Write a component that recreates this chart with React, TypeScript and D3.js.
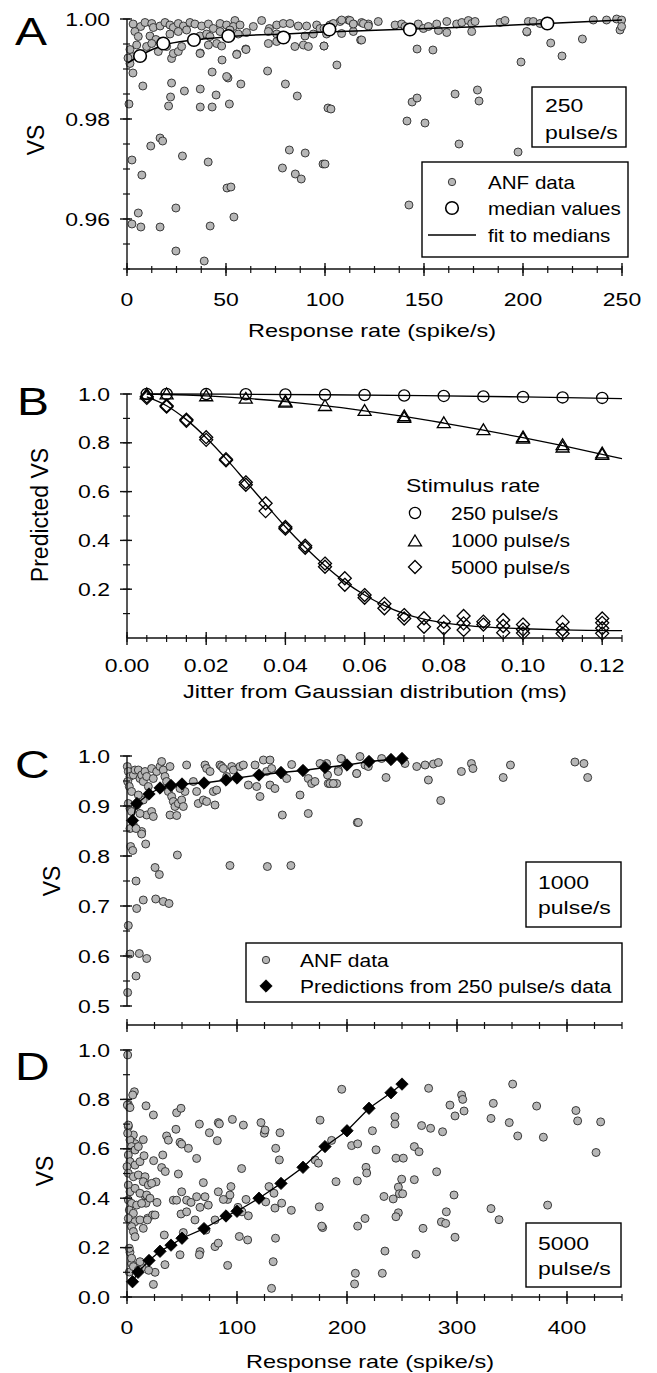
import React from "react";
import * as d3 from "d3";

// ---------------- DATA ----------------
// Panel A: 250 pulse/s, ANF data (response rate spike/s, VS)
const anfA: [number, number][] = [
  [3, 0.9892], [8, 0.9866], [1, 0.983], [22.5, 0.9872], [22, 0.9844], [21, 0.9826], [29, 0.9856], [37, 0.986], [37, 0.9824],
  [43, 0.9894], [45, 0.9848], [43, 0.9824], [51, 0.9882], [51.7, 0.983], [57.5, 0.987], [48, 0.9918], [60, 0.994], [55.5, 0.993],
  [37, 0.9932], [71, 0.9896], [80, 0.987], [86, 0.9846], [101.5, 0.9822], [12, 0.9746], [16.7, 0.9762], [18, 0.9756], [2.5, 0.9718],
  [28, 0.9726], [41, 0.9714], [7.5, 0.9688], [82, 0.9738], [90, 0.9732], [78.5, 0.9702], [85, 0.969], [88, 0.968], [99, 0.971],
  [100, 0.971], [50.5, 0.9662], [52.5, 0.9664], [5.7, 0.9612], [2.5, 0.959], [7, 0.9584], [16.7, 0.9584], [24.7, 0.9622], [42, 0.9586],
  [54, 0.9604], [24.7, 0.9536], [39, 0.9516],
  [99.5, 0.9946], [106, 0.9908], [118, 0.9958], [103, 0.982], [146.5, 0.994], [154.5, 0.9938], [144, 0.9834], [146.5, 0.9842],
  [141.4, 0.9796], [150.5, 0.9792], [165.7, 0.985], [177, 0.9858], [177.8, 0.9836], [167.7, 0.975], [142.4, 0.9628], [199, 0.9914],
  [197.5, 0.9734], [202, 0.9974], [214, 0.9952], [219.7, 0.9926], [230, 0.996],
  [2.4, 0.9925], [1.5, 0.9911], [22.5, 0.9921], [50.3, 0.9885], [0.5, 0.9922],
  [3.1, 0.999], [6.9, 0.9985], [9.1, 0.9993], [12.5, 0.9991], [13.3, 0.9983], [16.7, 0.9986], [19.2, 0.9993], [21.7, 0.9988],
  [23.4, 0.9983], [25.9, 0.9991], [28.5, 0.9986], [31.8, 0.9993], [34.3, 0.999], [37.7, 0.9986], [41.1, 0.999], [43.6, 0.9981],
  [47.0, 0.9991], [50.3, 0.9988], [54.5, 0.9997], [53.7, 0.9985], [57.1, 0.9988], [63.8, 0.9985], [68.0, 0.9997], [71.9, 0.9981],
  [75.6, 0.9988], [78.9, 0.9991], [82.3, 0.9991], [86.5, 0.9986], [90.7, 0.9986], [95.8, 0.9988], [97.5, 0.9981], [102.5, 0.9988],
  [107.6, 0.9995], [111.8, 0.9998], [114.3, 0.999], [118.5, 0.9993], [121.9, 0.999],
  [4.0, 0.9975], [5.7, 0.9965], [11.6, 0.9966], [14.6, 0.9959], [21.7, 0.997], [25.9, 0.9975], [30.1, 0.9978], [36.9, 0.9966],
  [40.2, 0.997], [41.9, 0.9965], [47.0, 0.9975], [52.0, 0.9978], [56.2, 0.997], [60.4, 0.9973], [71.4, 0.9975], [75.6, 0.997],
  [80.6, 0.9965], [89.9, 0.9966], [94.1, 0.997], [100.8, 0.997], [108.4, 0.9971], [114.3, 0.9975],
  [1.5, 0.9939], [4.9, 0.9948], [9.9, 0.9945], [12.5, 0.9951], [15.8, 0.9935], [20.0, 0.9945], [23.4, 0.9931], [25.9, 0.9935],
  [27.6, 0.9945], [36.9, 0.9931], [41.1, 0.9948], [45.3, 0.9951], [47.8, 0.9946], [55.4, 0.9929], [60.1, 0.9939], [71.4, 0.9951],
  [75.6, 0.9955], [84.8, 0.9945], [89.1, 0.9948], [91.6, 0.9945], [99.5, 0.9946], [118.5, 0.9958],
  [99.5, 0.9981], [104.2, 0.9991], [108.4, 0.9998], [112.6, 0.9997], [114.3, 0.999], [119.4, 0.9991], [121.9, 0.9986], [126.9, 0.9995],
  [135.4, 0.9988], [138.7, 0.999], [140.4, 0.9985], [147.1, 0.999], [149.7, 0.9981], [152.2, 0.9985], [156.4, 0.999], [157.3, 0.9977],
  [161.5, 0.9995], [161.5, 0.9973], [166.5, 0.999], [169.1, 0.9993], [172.4, 0.9997], [174.1, 0.9991], [175.8, 0.9995], [174.1, 0.9975],
  [188.4, 0.9993], [190.9, 0.9997], [201.9, 0.9975], [202.7, 0.9995], [205.2, 0.9995], [208.6, 0.9991], [235.5, 0.9998], [242.2, 0.9998],
  [247.3, 1.0], [249.8, 0.9998], [249, 0.9978], [249.8, 0.9985],
];
const mediansA: [number, number][] = [
  [6.6, 0.9926], [18.3, 0.9951], [33.8, 0.9958], [51.2, 0.9966], [79, 0.9963], [102.2, 0.9979], [142.9, 0.9979], [212.3, 0.9991],
];
const fitA: [number, number][] = [
  [0.5, 0.9912], [7, 0.9928], [18, 0.9947], [34, 0.9958], [50, 0.9964], [60, 0.9967], [80, 0.997], [100, 0.9974], [122, 0.9977],
  [145, 0.998], [180, 0.9985], [212, 0.9991], [250, 0.9998],
];

// Panel B: predicted VS vs jitter (ms)
const circles250: [number, number][] = [
  [0.005, 1.0], [0.01, 1.0], [0.02, 0.9995], [0.03, 0.999], [0.04, 0.998], [0.05, 0.997], [0.06, 0.996], [0.07, 0.994],
  [0.08, 0.992], [0.09, 0.99], [0.1, 0.988], [0.11, 0.986], [0.12, 0.984],
];
const triangles1000: [number, number][] = [
  [0.005, 1.0], [0.01, 1.0], [0.02, 0.992], [0.03, 0.982], [0.04, 0.97], [0.04, 0.966], [0.05, 0.952], [0.06, 0.932],
  [0.07, 0.91], [0.07, 0.903], [0.08, 0.882], [0.09, 0.853], [0.1, 0.824], [0.1, 0.818], [0.11, 0.792], [0.11, 0.782],
  [0.12, 0.758], [0.12, 0.752],
];
const diamonds5000: [number, number][] = [
  [0.005, 0.99], [0.005, 0.984], [0.01, 0.952], [0.01, 0.948], [0.015, 0.895], [0.015, 0.89], [0.02, 0.823], [0.02, 0.812],
  [0.025, 0.733], [0.025, 0.728], [0.03, 0.638], [0.03, 0.628], [0.035, 0.552], [0.035, 0.52], [0.04, 0.455], [0.04, 0.448],
  [0.045, 0.378], [0.045, 0.37], [0.05, 0.305], [0.05, 0.292], [0.055, 0.245], [0.055, 0.218], [0.06, 0.176], [0.06, 0.165],
  [0.065, 0.14], [0.065, 0.122], [0.07, 0.094], [0.07, 0.08], [0.075, 0.081], [0.075, 0.046], [0.08, 0.067], [0.08, 0.04],
  [0.085, 0.09], [0.085, 0.06], [0.085, 0.033], [0.09, 0.067], [0.09, 0.055], [0.095, 0.074], [0.095, 0.049], [0.095, 0.022],
  [0.1, 0.055], [0.1, 0.035], [0.1, 0.02], [0.11, 0.066], [0.11, 0.035], [0.11, 0.018], [0.12, 0.08], [0.12, 0.062],
  [0.12, 0.04], [0.12, 0.019],
];
const fit250: [number, number][] = [
  [0.005, 1.0], [0.025, 0.9992], [0.05, 0.997], [0.075, 0.993], [0.1, 0.988], [0.125, 0.981],
];
const fit1000: [number, number][] = [
  [0.005, 0.9995], [0.01, 0.998], [0.02, 0.992], [0.03, 0.982], [0.04, 0.969], [0.05, 0.952], [0.06, 0.931], [0.07, 0.908],
  [0.08, 0.881], [0.09, 0.852], [0.1, 0.821], [0.11, 0.788], [0.12, 0.753], [0.125, 0.735],
];
const fit5000: [number, number][] = [
  [0.005, 0.988], [0.01, 0.952], [0.015, 0.895], [0.02, 0.821], [0.025, 0.735], [0.03, 0.642], [0.035, 0.548], [0.04, 0.456],
  [0.045, 0.372], [0.05, 0.296], [0.055, 0.23], [0.06, 0.176], [0.065, 0.133], [0.07, 0.1], [0.075, 0.077], [0.08, 0.062],
  [0.085, 0.052], [0.09, 0.046], [0.1, 0.038], [0.11, 0.033], [0.125, 0.03],
];

// Panel C: 1000 pulse/s
const anfC: [number, number][] = [
  [0.3, 0.979], [1.2, 0.969], [2.7, 0.959], [0.6, 0.949], [2.1, 0.939], [4.2, 0.929], [5.8, 0.962], [7.3, 0.972], [10.3, 0.972],
  [11.8, 0.955], [13.3, 0.962], [14.8, 0.949], [16.4, 0.969], [17.9, 0.959], [19.4, 0.939], [22.4, 0.975], [23.9, 0.955], [27, 0.969],
  [30, 0.979], [31.5, 0.989], [33, 0.972], [34.5, 0.959], [39.1, 0.979], [36, 0.949], [37.6, 0.929], [40.6, 0.919], [42.1, 0.909],
  [43.6, 0.899], [46.7, 0.905], [49.7, 0.912], [51.2, 0.899], [52.7, 0.929], [48.2, 0.935], [54.2, 0.982], [60.3, 0.949], [63.3, 0.929],
  [64.8, 0.905], [69.4, 0.912], [72.4, 0.909], [78.5, 0.929], [81.5, 0.932], [80, 0.902], [70.9, 0.982], [72.4, 0.975], [75.5, 0.969],
  [84.5, 0.982], [86, 0.979], [87.6, 0.975], [90.6, 0.959], [95.2, 0.979], [96.7, 0.972], [102.7, 0.979], [105.8, 0.982], [110.3, 0.942],
  [116.4, 0.982], [117.9, 0.939], [120.9, 0.919], [124, 0.992], [130, 0.992], [127, 0.969], [131.5, 0.975], [130, 0.942], [134.5, 0.935],
  [142.1, 0.962], [149.7, 0.983], [145.2, 0.955], [157.3, 0.922], [164.8, 0.955], [167.9, 0.945], [170.9, 0.949], [175.5, 0.985],
  [183, 0.945], [187.6, 0.945], [190.6, 0.945], [195.2, 0.994], [192.1, 0.972], [208.8, 0.965], [211.8, 0.999], [216.4, 0.982],
  [219.4, 0.979], [141.2, 0.882], [164.8, 0.885], [209.4, 0.867], [39.1, 0.882], [45.2, 0.881], [17.9, 0.882], [22.4, 0.889],
  [23.9, 0.879], [11.8, 0.885], [8.8, 0.902], [14.8, 0.912], [10.3, 0.922], [5.8, 0.862], [13.3, 0.849], [2.7, 0.895], [1.2, 0.905],
  [4.2, 0.889],
  [2.7, 0.855], [8.2, 0.855], [13.3, 0.844], [17, 0.824], [3.3, 0.819], [5.2, 0.811], [45.8, 0.802], [25.5, 0.777], [29.4, 0.763],
  [8.2, 0.75], [93.6, 0.781], [127.6, 0.779], [149, 0.781], [14.8, 0.712], [8.8, 0.695], [26.1, 0.714], [33, 0.709], [38.2, 0.705],
  [1.2, 0.661], [2.7, 0.604], [11.2, 0.605], [17.9, 0.595], [8.2, 0.56], [0.6, 0.527],
  [181.5, 0.985], [182.3, 0.962], [184.5, 0.945], [187.5, 0.945], [192.1, 0.969], [194.5, 0.995], [208.8, 0.965], [210.3, 0.867],
  [231.5, 0.995], [235.5, 0.957], [252.7, 0.985], [263.4, 0.979], [271, 0.982], [278.6, 0.984], [283.1, 0.987], [274, 0.952],
  [285.2, 0.911], [304, 0.969], [313.1, 0.985], [314.5, 0.975], [342, 0.957], [348.6, 0.982], [407.2, 0.988], [415.4, 0.985],
  [418.8, 0.957],
];
const predC: [number, number][] = [
  [5, 0.871], [9, 0.905], [20, 0.924], [30, 0.936], [40, 0.941], [50, 0.944], [70, 0.946], [90, 0.952], [100, 0.956], [120, 0.962],
  [140, 0.967], [160, 0.971], [180, 0.977], [200, 0.982], [220, 0.989], [240, 0.993], [250, 0.995],
];

// Panel D: 5000 pulse/s
const anfD: [number, number][] = [
  [6.7, 0.831], [5.2, 0.818], [1.2, 0.78], [2.1, 0.768], [17.3, 0.774], [24, 0.737], [45.1, 0.746], [49.1, 0.764], [44.5, 0.679],
  [36, 0.652], [32.5, 0.575], [37.6, 0.635], [14.8, 0.637], [7.3, 0.621], [48.2, 0.626], [49.7, 0.619], [55.8, 0.602], [63.3, 0.561],
  [65.8, 0.7], [74.9, 0.665], [82.1, 0.633], [83, 0.706], [84, 0.701], [95.8, 0.719], [105.8, 0.696], [104.2, 0.52], [121.8, 0.706],
  [124.8, 0.663], [125.5, 0.676], [139.1, 0.665], [135.2, 0.602], [138.5, 0.555], [175.5, 0.716], [171, 0.555], [174, 0.542],
  [46.7, 0.498], [49.7, 0.426], [42.1, 0.392], [45.1, 0.392], [54.2, 0.392], [58.2, 0.383], [63.3, 0.406], [69.4, 0.463], [70.9, 0.406],
  [73.9, 0.372], [66.4, 0.363], [49.1, 0.336], [54.2, 0.345], [83, 0.426], [91.5, 0.395], [94.5, 0.447], [93.6, 0.413], [87.6, 0.395],
  [108.2, 0.395], [110.3, 0.329], [100.9, 0.363], [104.5, 0.345], [129.1, 0.447], [133.6, 0.42], [126.1, 0.385], [140.6, 0.38],
  [134.5, 0.36], [149.4, 0.351], [174.8, 0.365], [177.9, 0.281], [177, 0.287], [33.9, 0.251], [18.8, 0.319], [23.3, 0.332],
  [27.3, 0.383], [16.4, 0.41], [17.3, 0.38], [26.4, 0.466], [24.2, 0.552], [31.5, 0.524], [34.8, 0.508], [51.2, 0.261], [71.8, 0.271],
  [80, 0.312], [61.8, 0.312], [80, 0.204], [83, 0.218], [66.4, 0.184], [65.8, 0.171], [48.2, 0.171], [34.5, 0.131], [25.5, 0.1],
  [24, 0.051], [91.5, 0.128], [102.1, 0.245], [109.7, 0.231], [135, 0.238], [132.9, 0.143], [131.4, 0.035], [13.9, 0.12], [19.7, 0.108],
  [2.1, 0.101], [4.2, 0.135], [2.7, 0.181],
  [0.3, 0.777], [2.7, 0.767], [1.2, 0.69], [5.8, 0.656], [2.7, 0.636], [4.2, 0.609], [7.3, 0.595], [10.3, 0.609], [1.2, 0.575],
  [2.7, 0.548], [7.3, 0.534], [11.8, 0.548], [0, 0.528], [1.2, 0.501], [5.8, 0.487], [10.3, 0.494], [16.4, 0.487], [14.8, 0.467],
  [19.4, 0.453], [22.4, 0.46], [1.2, 0.453], [2.7, 0.426], [7.3, 0.44], [11.8, 0.42], [17.9, 0.413], [20.9, 0.4], [1.2, 0.393],
  [4.2, 0.379], [8.8, 0.372], [13.3, 0.379], [2.1, 0.352], [5.8, 0.339], [1.2, 0.318], [7.3, 0.305], [11.8, 0.312], [4.2, 0.285],
  [5.8, 0.265], [7.3, 0.244], [14.8, 0.278], [25.5, 0.332], [18.5, 0.312], [2.1, 0.197], [4.2, 0.157], [5.8, 0.123], [10.3, 0.109],
  [11.8, 0.143], [15.5, 0.572], [0.6, 0.98], [1.2, 0.696], [0.6, 0.663],
  [195.2, 0.841], [274.2, 0.845], [350.6, 0.862], [304.2, 0.818], [305.2, 0.8], [293.6, 0.777], [298.2, 0.733], [306.4, 0.753],
  [333, 0.784], [330.9, 0.723], [347.5, 0.706], [372.4, 0.773], [355.2, 0.652], [378.5, 0.647], [408.1, 0.755], [409.7, 0.713],
  [430.6, 0.709], [426.4, 0.585], [243.6, 0.73], [243.6, 0.7], [267.8, 0.694], [276, 0.683], [286.9, 0.669], [223.1, 0.673],
  [204.2, 0.613], [209.7, 0.62], [226.4, 0.596], [244.5, 0.562], [251.2, 0.562], [261.2, 0.609], [265.5, 0.588], [217.3, 0.525],
  [217.9, 0.502], [186, 0.634], [190, 0.467], [209.4, 0.47], [249.7, 0.477], [261.2, 0.475], [281.5, 0.507], [246.7, 0.445],
  [247.6, 0.418], [250.6, 0.418], [233.6, 0.407], [242, 0.397], [297.3, 0.413], [246.7, 0.341], [244.5, 0.325], [216.4, 0.318],
  [209.7, 0.287], [290.3, 0.345], [285.8, 0.304], [289.7, 0.298], [269.1, 0.278], [298.2, 0.242], [330.9, 0.358], [338.2, 0.313],
  [382.4, 0.372], [234.5, 0.186], [262.7, 0.173], [232.1, 0.096], [207.6, 0.096], [206.9, 0.053],
];
const predD: [number, number][] = [
  [5, 0.062], [10, 0.1], [20, 0.148], [30, 0.185], [40, 0.21], [50, 0.238], [70, 0.277], [90, 0.328], [100, 0.347], [120, 0.4],
  [140, 0.46], [160, 0.525], [180, 0.609], [200, 0.673], [220, 0.764], [240, 0.827], [250, 0.862],
];

// Tick labels
const xTicksA = [0, 50, 100, 150, 200, 250];
const yTicksA = [0.96, 0.98, 1.0];
const xTicksB = [0, 0.02, 0.04, 0.06, 0.08, 0.1, 0.12];
const yTicksB = [0.2, 0.4, 0.6, 0.8, 1.0];
const xTicksCD = [0, 100, 200, 300, 400];
const yTicksC = [0.5, 0.6, 0.7, 0.8, 0.9, 1.0];
const yTicksD = [0.0, 0.2, 0.4, 0.6, 0.8, 1.0];

// ---------------- RENDER ----------------
const FONT = "'Liberation Sans', Arial, Helvetica, sans-serif";
const AX = "#111";
const DOT_FILL = "#b6b6b6";
const DOT_STROKE = "#2a2a2a";

function HT({ x, y, size, sy = 0.81, anchor = "start", children }: any) {
  return (
    <text
      transform={`translate(${x},${y}) scale(1,${sy})`}
      fontSize={size}
      textAnchor={anchor}
      dominantBaseline="central"
      fontFamily={FONT}
      fill="#000"
    >
      {children}
    </text>
  );
}

function Letter({ x, y, t }: any) {
  return (
    <text transform={`translate(${x},${y}) scale(1,0.81)`} fontSize={48} fontFamily={FONT} fill="#000">
      {t}
    </text>
  );
}

function VTitle({ x, y, t }: any) {
  return (
    <text
      transform={`translate(${x},${y}) rotate(-90)`}
      fontSize={23}
      textAnchor="middle"
      dominantBaseline="central"
      fontFamily={FONT}
      fill="#000"
    >
      {t}
    </text>
  );
}

function XAxis({ scale, y, major, minor, labels, fmt, labelY }: any) {
  const [r0, r1] = scale.range();
  return (
    <g>
      <line x1={r0} x2={r1} y1={y} y2={y} stroke={AX} strokeWidth={1.4} />
      {minor.map((v: number, i: number) => (
        <line key={"m" + i} x1={scale(v)} x2={scale(v)} y1={y - 3} y2={y + 4} stroke={AX} strokeWidth={1.2} />
      ))}
      {major.map((v: number, i: number) => (
        <line key={"M" + i} x1={scale(v)} x2={scale(v)} y1={y - 6} y2={y + 7} stroke={AX} strokeWidth={1.4} />
      ))}
      {labels &&
        major.map((v: number, i: number) => (
          <HT key={"l" + i} x={scale(v)} y={labelY} size={23} anchor="middle">
            {fmt(v)}
          </HT>
        ))}
    </g>
  );
}

function YAxis({ scale, x, major, minor, fmt, y0, y1, labelX = 110 }: any) {
  return (
    <g>
      <line x1={x} x2={x} y1={y0} y2={y1} stroke={AX} strokeWidth={1.4} />
      {minor.map((v: number, i: number) => (
        <line key={"m" + i} x1={x - 4} x2={x + 3} y1={scale(v)} y2={scale(v)} stroke={AX} strokeWidth={1.2} />
      ))}
      {major.map((v: number, i: number) => (
        <line key={"M" + i} x1={x - 7} x2={x + 5} y1={scale(v)} y2={scale(v)} stroke={AX} strokeWidth={1.4} />
      ))}
      {major.map((v: number, i: number) => (
        <HT key={"l" + i} x={labelX} y={scale(v)} size={23} anchor="end">
          {fmt(v)}
        </HT>
      ))}
    </g>
  );
}

const dia = (h: number) => `M0,${-h}L${h},0L0,${h}L${-h},0Z`;
const tri = `M0,-6L6.5,4.8L-6.5,4.8Z`;

function Dots({ data, xs, ys, r = 4 }: any) {
  return (
    <g>
      {data.map((d: [number, number], i: number) => (
        <circle key={i} cx={xs(d[0])} cy={ys(d[1])} r={r} fill={DOT_FILL} stroke={DOT_STROKE} strokeWidth={0.9} />
      ))}
    </g>
  );
}

export default function App() {
  // Panel A scales
  const xA = d3.scaleLinear().domain([0, 250]).range([127, 622]);
  const yA = d3.scaleLinear().domain([0.95, 1.0]).range([269, 19]);
  // Panel B
  const xB = d3.scaleLinear().domain([0, 0.125]).range([127, 622]);
  const yB = d3.scaleLinear().domain([0, 1]).range([638, 394]);
  // Panel C
  const xC = d3.scaleLinear().domain([0, 450]).range([127, 622]);
  const yC = d3.scaleLinear().domain([0.5, 1.0]).range([1006, 756]);
  // Panel D
  const yD = d3.scaleLinear().domain([0, 1]).range([1297, 1050]);

  const lineA = d3.line<[number, number]>().x((d) => xA(d[0])).y((d) => yA(d[1])).curve(d3.curveMonotoneX);
  const lineB = d3.line<[number, number]>().x((d) => xB(d[0])).y((d) => yB(d[1])).curve(d3.curveMonotoneX);
  const lineC = d3.line<[number, number]>().x((d) => xC(d[0])).y((d) => yC(d[1]));
  const lineD = d3.line<[number, number]>().x((d) => xC(d[0])).y((d) => yD(d[1]));

  const minorXA = d3.range(0, 250.01, 12.5);
  const minorYA = d3.range(0.95, 1.0001, 0.005);
  const minorXB = d3.range(0, 0.1251, 0.005);
  const minorYB = d3.range(0.1, 1.0001, 0.1);
  const minorXCD = d3.range(0, 450.1, 25);
  const minorYC = d3.range(0.5, 1.0001, 0.05);
  const minorYD = d3.range(0, 1.0001, 0.1);

  return (
    <svg
      width={657}
      height={1373}
      style={{ position: "absolute", left: 0, top: 0, background: "#fff" }}
      fontFamily={FONT}
    >
      <rect x={0} y={0} width={657} height={1373} fill="#fff" />

      {/* ---------- Panel A ---------- */}
      <Letter x={15} y={45} t="A" />
      <VTitle x={35.5} y={140} t="VS" />
      <Dots data={anfA} xs={xA} ys={yA} r={4} />
      <path d={lineA(fitA) || ""} fill="none" stroke="#000" strokeWidth={1.5} />
      {mediansA.map((d, i) => (
        <circle key={i} cx={xA(d[0])} cy={yA(d[1])} r={6.3} fill="#fff" stroke="#000" strokeWidth={1.6} />
      ))}
      <YAxis scale={yA} x={127} major={yTicksA} minor={minorYA} fmt={(v: number) => v.toFixed(2)} y0={19} y1={269} />
      <XAxis scale={xA} y={269} major={xTicksA} minor={minorXA} labels fmt={(v: number) => String(v)} labelY={299} />
      <HT x={372} y={331} size={23.5} anchor="middle">Response rate (spike/s)</HT>
      {/* legend A */}
      <rect x={532} y={87} width={94} height={60} fill="#fff" stroke="#000" strokeWidth={1.4} />
      <HT x={545} y={105} size={23}>250</HT>
      <HT x={545} y={132} size={23}>pulse/s</HT>
      <rect x={422} y={162} width={206} height={95} fill="#fff" stroke="#000" strokeWidth={1.4} />
      <circle cx={452} cy={182} r={3.7} fill={DOT_FILL} stroke={DOT_STROKE} strokeWidth={0.9} />
      <HT x={488} y={182} size={20.6} sy={0.9}>ANF data</HT>
      <circle cx={452} cy={208} r={6.3} fill="#fff" stroke="#000" strokeWidth={1.6} />
      <HT x={488} y={208} size={20.6} sy={0.9}>median values</HT>
      <line x1={428} x2={476} y1={235} y2={235} stroke="#000" strokeWidth={1.5} />
      <HT x={488} y={235} size={20.6} sy={0.9}>fit to medians</HT>

      {/* ---------- Panel B ---------- */}
      <Letter x={17} y={415} t="B" />
      <VTitle x={40} y={515} t="Predicted VS" />
      <path d={lineB(fit250) || ""} fill="none" stroke="#000" strokeWidth={1.3} />
      <path d={lineB(fit1000) || ""} fill="none" stroke="#000" strokeWidth={1.3} />
      <path d={lineB(fit5000) || ""} fill="none" stroke="#000" strokeWidth={1.3} />
      {circles250.map((d, i) => (
        <circle key={i} cx={xB(d[0])} cy={yB(d[1])} r={5.6} fill="none" stroke="#000" strokeWidth={1.3} />
      ))}
      {triangles1000.map((d, i) => (
        <path key={i} d={tri} transform={`translate(${xB(d[0])},${yB(d[1])})`} fill="none" stroke="#000" strokeWidth={1.3} />
      ))}
      {diamonds5000.map((d, i) => (
        <path key={i} d={dia(6.5)} transform={`translate(${xB(d[0])},${yB(d[1])})`} fill="none" stroke="#000" strokeWidth={1.3} />
      ))}
      <YAxis scale={yB} x={127} major={yTicksB} minor={minorYB} fmt={(v: number) => v.toFixed(1)} y0={394} y1={638} />
      <XAxis scale={xB} y={638} major={xTicksB} minor={minorXB} labels fmt={(v: number) => v.toFixed(2)} labelY={665} />
      <HT x={375} y={692} size={23.5} anchor="middle">Jitter from Gaussian distribution (ms)</HT>
      {/* legend B */}
      <HT x={406} y={485} size={23}>Stimulus rate</HT>
      <circle cx={415} cy={513} r={5.6} fill="none" stroke="#000" strokeWidth={1.3} />
      <HT x={451} y={513} size={21} sy={0.88}>250 pulse/s</HT>
      <path d={tri} transform="translate(415,541)" fill="none" stroke="#000" strokeWidth={1.3} />
      <HT x={451} y={540} size={21} sy={0.88}>1000 pulse/s</HT>
      <path d={dia(6.5)} transform="translate(415,567)" fill="none" stroke="#000" strokeWidth={1.3} />
      <HT x={451} y={567} size={21} sy={0.88}>5000 pulse/s</HT>

      {/* ---------- Panel C ---------- */}
      <Letter x={15} y={778} t="C" />
      <VTitle x={52} y={881} t="VS" />
      <Dots data={anfC} xs={xC} ys={yC} r={4} />
      <path d={lineC(predC) || ""} fill="none" stroke="#000" strokeWidth={1.3} />
      {predC.map((d, i) => (
        <path key={i} d={dia(6.2)} transform={`translate(${xC(d[0])},${yC(d[1])})`} fill="#000" stroke="#000" strokeWidth={0.8} />
      ))}
      <YAxis scale={yC} x={127} major={yTicksC} minor={minorYC} fmt={(v: number) => v.toFixed(1)} y0={756} y1={1006} />
      <XAxis scale={xC} y={1025} major={xTicksCD} minor={minorXCD} labels={false} fmt={(v: number) => String(v)} labelY={0} />
      <rect x={526} y={862} width={95} height={65} fill="#fff" stroke="#000" strokeWidth={1.4} />
      <HT x={538} y={882} size={23}>1000</HT>
      <HT x={538} y={907} size={23}>pulse/s</HT>
      <rect x={246} y={943} width={376} height={59} fill="#fff" stroke="#000" strokeWidth={1.4} />
      <circle cx={266} cy={960} r={3.7} fill={DOT_FILL} stroke={DOT_STROKE} strokeWidth={0.9} />
      <HT x={300} y={960} size={21} sy={0.88}>ANF data</HT>
      <path d={dia(6.2)} transform="translate(266,986)" fill="#000" stroke="#000" strokeWidth={0.8} />
      <HT x={300} y={986} size={21} sy={0.88}>Predictions from 250 pulse/s data</HT>

      {/* ---------- Panel D ---------- */}
      <Letter x={15} y={1080} t="D" />
      <VTitle x={45} y={1171} t="VS" />
      <Dots data={anfD} xs={xC} ys={yD} r={4} />
      <path d={lineD(predD) || ""} fill="none" stroke="#000" strokeWidth={1.3} />
      {predD.map((d, i) => (
        <path key={i} d={dia(6.2)} transform={`translate(${xC(d[0])},${yD(d[1])})`} fill="#000" stroke="#000" strokeWidth={0.8} />
      ))}
      <YAxis scale={yD} x={127} major={yTicksD} minor={minorYD} fmt={(v: number) => v.toFixed(1)} y0={1050} y1={1297} />
      <XAxis scale={xC} y={1297} major={xTicksCD} minor={minorXCD} labels fmt={(v: number) => String(v)} labelY={1327} />
      <HT x={370} y={1362} size={23.5} anchor="middle">Response rate (spike/s)</HT>
      <rect x={526} y={1223} width={95} height={64} fill="#fff" stroke="#000" strokeWidth={1.4} />
      <HT x={538} y={1243} size={23}>5000</HT>
      <HT x={538} y={1268} size={23}>pulse/s</HT>
    </svg>
  );
}
